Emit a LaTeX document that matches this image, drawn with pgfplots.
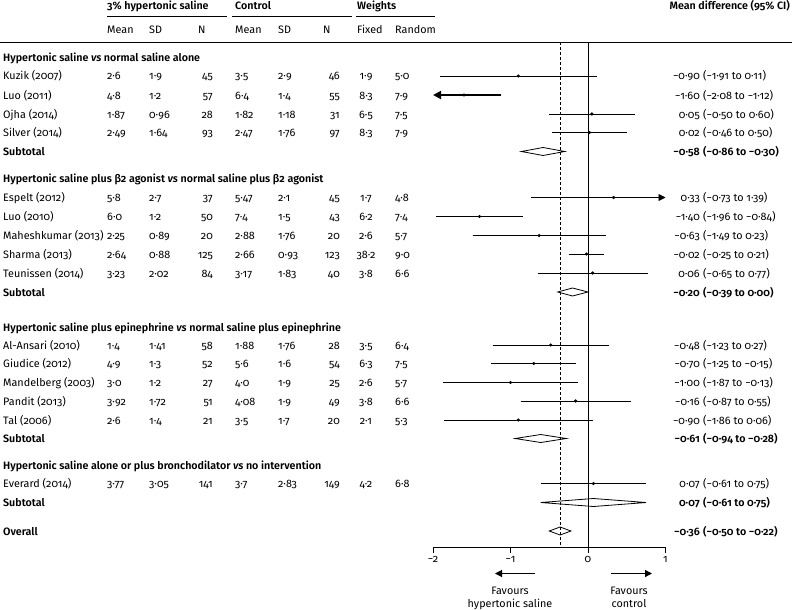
\documentclass[border=0pt]{standalone}
\usepackage{fontspec}
\setmainfont{Fira Sans}[Numbers=OldStyle,BoldFont={Fira Sans SemiBold}]
\usepackage{pgfplots}
\pgfplotsset{compat=1.18}
\usetikzlibrary{arrows.meta}

\newcommand\rg{\fontsize{10.8}{14}\selectfont}
\newcommand\bd{\fontsize{10.7}{14}\selectfont\bfseries}

% y positions are pixel rows from the top, x in data units on the axis
\begin{document}
\begin{tikzpicture}[x=1pt,y=-1pt,font=\rg]
\useasboundingbox (0,0) rectangle (792,610);

\begin{axis}[at={(433pt,-547pt)},anchor=south west,
  x=77.5pt,y=1pt,
  xmin=-2,xmax=1,ymin=-547,ymax=-42,
  axis y line=none,axis x line=bottom,
  x axis line style={-,line width=0.8pt},
  xtick={-2,-1,0,1},xticklabels={−2,−1,0,1},
  tick align=outside,major tick length=6pt,
  xtick style={black,line width=0.8pt},
  xticklabel style={font=\rg,yshift=0pt},
  clip=false]
  % studies
  \addplot[black,line width=0.8pt] coordinates {(-1.91,-76)(0.11,-76)};
  \addplot[black,line width=1.8pt,-{Triangle[length=8pt,width=8pt]}] coordinates {(-1.12,-95)(-2.00,-95)};
  \addplot[black,line width=1pt] coordinates {(-0.50,-114)(0.60,-114)};
  \addplot[black,line width=0.9pt] coordinates {(-0.46,-132.5)(0.50,-132.5)};
  \addplot[black,line width=0.9pt,-{Triangle[length=7pt,width=7pt]}] coordinates {(-0.73,-197.5)(1.00,-197.5)};
  \addplot[black,line width=1pt] coordinates {(-1.96,-216.5)(-0.84,-216.5)};
  \addplot[black,line width=0.9pt] coordinates {(-1.49,-235.5)(0.23,-235.5)};
  \addplot[black,line width=1pt] coordinates {(-0.25,-254)(0.21,-254)};
  \addplot[black,line width=1pt] coordinates {(-0.65,-273)(0.77,-273)};
  \addplot[black,line width=1pt] coordinates {(-1.23,-345)(0.27,-345)};
  \addplot[black,line width=1pt] coordinates {(-1.25,-363.5)(-0.15,-363.5)};
  \addplot[black,line width=1pt] coordinates {(-1.87,-382.5)(-0.13,-382.5)};
  \addplot[black,line width=0.8pt] coordinates {(-0.87,-401)(0.55,-401)};
  \addplot[black,line width=1pt] coordinates {(-1.86,-420)(0.06,-420)};
  \addplot[black,line width=0.8pt] coordinates {(-0.61,-483.5)(0.75,-483.5)};
  \addplot[only marks,mark=*,mark size=1.4pt,black] coordinates {
    (-0.90,-76)(-1.60,-95)(0.05,-114)(0.02,-132.5)
    (0.33,-197.5)(-1.40,-216.5)(-0.63,-235.5)(-0.02,-254)(0.06,-273)
    (-0.48,-345)(-0.70,-363.5)(-1.00,-382.5)(-0.16,-401)(-0.90,-420)
    (0.07,-483.5)};
  % pooled estimates
  \addplot[black,line width=0.8pt] coordinates {(-0.86,-151.5)(-0.58,-147.5)(-0.30,-151.5)(-0.58,-155.5)} -- cycle;
  \addplot[black,line width=0.8pt] coordinates {(-0.39,-292)(-0.20,-288)(0.00,-292)(-0.20,-296)} -- cycle;
  \addplot[black,line width=0.8pt] coordinates {(-0.94,-438.5)(-0.61,-434.5)(-0.28,-438.5)(-0.61,-442.5)} -- cycle;
  \addplot[black,line width=0.8pt] coordinates {(-0.61,-502.5)(0.07,-498.5)(0.75,-502.5)(0.07,-506.5)} -- cycle;
  \addplot[black,line width=0.8pt] coordinates {(-0.50,-531)(-0.36,-527)(-0.22,-531)(-0.36,-535)} -- cycle;
  % reference lines
  \addplot[black,line width=0.8pt] coordinates {(0,-42)(0,-547)};
  \addplot[black,line width=0.8pt,densely dashed] coordinates {(-0.36,-42)(-0.36,-547)};
\end{axis}

% header
\draw[line width=0.7pt] (0,42) -- (792,42);
\draw[line width=0.7pt] (107,16) -- (227,16);
\draw[line width=0.7pt] (232,16) -- (352,16);
\draw[line width=0.7pt] (356,16) -- (435,16);
\node[anchor=base west,inner sep=0,font=\bd] at (107,10) {3\% hypertonic saline};
\node[anchor=base west,inner sep=0,font=\bd] at (235,10) {Control};
\node[anchor=base west,inner sep=0,font=\bd] at (357,10) {Weights};
\node[anchor=base east,inner sep=0,font=\bd] at (790,10) {Mean difference (95\% CI)};
\foreach \x/\t in {107/Mean,149/SD,198/N,235/Mean,278/SD,323/N,357/Fixed,395/Random}
  \node[anchor=base west,inner sep=0] at (\x,34) {\t};

% group headings and subtotals
\foreach \y/\t in {57.5/{Hypertonic saline \textit{vs} normal saline alone},
  178.5/{Hypertonic saline plus β2 agonist \textit{vs} normal saline plus β2 agonist},
  327/{Hypertonic saline plus epinephrine \textit{vs} normal saline plus epinephrine},
  465/{Hypertonic saline alone or plus bronchodilator \textit{vs} no intervention},
  151.5/Subtotal,292/Subtotal,438.5/Subtotal,502.5/Subtotal,531/Overall}
  \node[anchor=base west,inner sep=0,font=\bd] at (3,\y+4) {\t};

% study rows
\foreach \y/\s/\ma/\sa/\na/\mb/\sb/\nb/\fx/\rd in {
  76/Kuzik (2007)/2·6/1·9/45/3·5/2·9/46/1·9/5·0,
  95/Luo (2011)/4·8/1·2/57/6·4/1·4/55/8·3/7·9,
  114/Ojha (2014)/1·87/0·96/28/1·82/1·18/31/6·5/7·5,
  132.5/Silver (2014)/2·49/1·64/93/2·47/1·76/97/8·3/7·9,
  197.5/Espelt (2012)/5·8/2·7/37/5·47/2·1/45/1·7/4·8,
  216.5/Luo (2010)/6·0/1·2/50/7·4/1·5/43/6·2/7·4,
  235.5/Maheshkumar (2013)/2·25/0·89/20/2·88/1·76/20/2·6/5·7,
  254/Sharma (2013)/2·64/0·88/125/2·66/0·93/123/38·2/9·0,
  273/Teunissen (2014)/3·23/2·02/84/3·17/1·83/40/3·8/6·6,
  345/Al-Ansari (2010)/1·4/1·41/58/1·88/1·76/28/3·5/6·4,
  363.5/Giudice (2012)/4·9/1·3/52/5·6/1·6/54/6·3/7·5,
  382.5/Mandelberg (2003)/3·0/1·2/27/4·0/1·9/25/2·6/5·7,
  401/Pandit (2013)/3·92/1·72/51/4·08/1·9/49/3·8/6·6,
  420/Tal (2006)/2·6/1·4/21/3·5/1·7/20/2·1/5·3,
  483.5/Everard (2014)/3·77/3·05/141/3·7/2·83/149/4·2/6·8}{
  \node[anchor=base west,inner sep=0] at (3,\y+4) {\s};
  \node[anchor=base west,inner sep=0] at (107,\y+4) {\ma};
  \node[anchor=base west,inner sep=0] at (149,\y+4) {\sa};
  \node[anchor=base east,inner sep=0] at (213,\y+4) {\na};
  \node[anchor=base west,inner sep=0] at (235,\y+4) {\mb};
  \node[anchor=base west,inner sep=0] at (278,\y+4) {\sb};
  \node[anchor=base east,inner sep=0] at (340,\y+4) {\nb};
  \node[anchor=base,inner sep=0] at (366,\y+4) {\fx};
  \node[anchor=base west,inner sep=0] at (395,\y+4) {\rd};
}

% mean differences
\foreach \y/\e/\c in {
  76/−0·90/(−1·91 to 0·11), 95/−1·60/(−2·08 to −1·12),
  114/0·05/(−0·50 to 0·60), 132.5/0·02/(−0·46 to 0·50),
  197.5/0·33/(−0·73 to 1·39), 216.5/−1·40/(−1·96 to −0·84),
  235.5/−0·63/(−1·49 to 0·23), 254/−0·02/(−0·25 to 0·21),
  273/0·06/(−0·65 to 0·77),
  345/−0·48/(−1·23 to 0·27), 363.5/−0·70/(−1·25 to −0·15),
  382.5/−1·00/(−1·87 to −0·13), 401/−0·16/(−0·87 to 0·55),
  420/−0·90/(−1·86 to 0·06), 483.5/0·07/(−0·61 to 0·75)}{
  \node[anchor=base east,inner sep=0] at (700,\y+4) {\e};
  \node[anchor=base west,inner sep=0] at (703,\y+4) {\c};
}
\foreach \y/\e/\c in {
  151.5/−0·58/(−0·86 to −0·30), 292/−0·20/(−0·39 to 0·00),
  438.5/−0·61/(−0·94 to −0·28), 502.5/0·07/(−0·61 to 0·75),
  531/−0·36/(−0·50 to −0·22)}{
  \node[anchor=base east,inner sep=0,font=\bd] at (700,\y+4) {\e};
  \node[anchor=base west,inner sep=0,font=\bd] at (703,\y+4) {\c};
}

% favours
\draw[line width=1.2pt,-{Triangle[length=7pt,width=7pt]}] (535,573.5) -- (495,573.5);
\draw[line width=1.2pt,-{Triangle[length=7pt,width=7pt]}] (611,573.5) -- (652,573.5);
\node[anchor=base,inner sep=0] at (510,594) {Favours};
\node[anchor=base,inner sep=0] at (510,607) {hypertonic saline};
\node[anchor=base,inner sep=0] at (629,594) {Favours};
\node[anchor=base,inner sep=0] at (629,607) {control};
\end{tikzpicture}
\end{document}
